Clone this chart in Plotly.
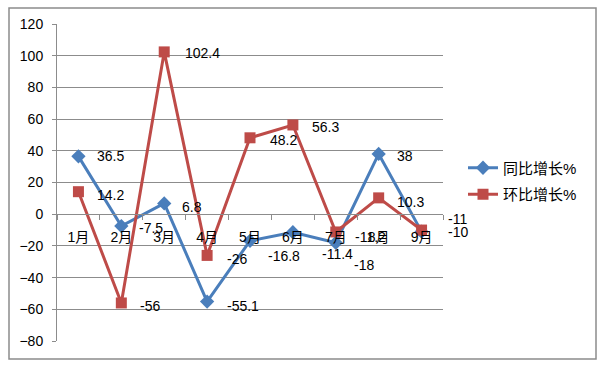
import plotly.graph_objects as go

months = ["1月", "2月", "3月", "4月", "5月", "6月", "7月", "8月", "9月"]
yoy = [36.5, -7.5, 6.8, -55.1, -16.8, -11.4, -18, 38, -11]      # 同比增长%
mom = [14.2, -56, 102.4, -26, 48.2, 56.3, -11.2, 10.3, -10]     # 环比增长%
y_ticks = [-80, -60, -40, -20, 0, 20, 40, 60, 80, 100, 120]

# label offsets in pixels (right, down)
yoy_off = [(17, 0), (16, 2), (16, 4), (18, 4), (16, 15), (27, 22), (16, 22), (16, 2), (24, -13)]
mom_off = [(17, 3), (17, 3), (19, 1), (18, 4), (18, 2), (17, 2), (17, 5), (16, 4), (24, 2)]

BLUE = "#4A7EBB"
RED = "#BE4B48"
GRID = "#8C8C8C"
FONT = "Liberation Sans, Noto Sans CJK SC, sans-serif"

W, H = 600, 367
L, R, T, B = 57, 443, 24, 341

fig = go.Figure()
fig.add_trace(go.Scatter(
    x=months, y=yoy, name="同比增长%", mode="lines+markers",
    line=dict(color=BLUE, width=3),
    marker=dict(symbol="diamond", size=11, color=BLUE),
    legendgroup="a",
))
fig.add_trace(go.Scatter(
    x=months, y=mom, name="环比增长%", mode="lines+markers",
    line=dict(color=RED, width=3),
    marker=dict(symbol="square", size=11, color=RED),
    legendgroup="b",
))

anns = []
for vals, offs in ((yoy, yoy_off), (mom, mom_off)):
    for m, v, (dx, dy) in zip(months, vals, offs):
        anns.append(dict(
            x=m, y=v, xref="x", yref="y", text=f"{v:g}", showarrow=False,
            xanchor="left", yanchor="middle", xshift=dx, yshift=-dy,
            font=dict(family=FONT, size=14, color="black"),
        ))

pw, ph = R - L, B - T
def px(x):
    return (x - L) / pw
def py(y):
    return (B - y) / ph

fig.update_layout(
    width=W, height=H,
    margin=dict(l=L, r=W - R, t=T, b=H - B, autoexpand=False),
    paper_bgcolor="white", plot_bgcolor="white",
    font=dict(family=FONT, size=14, color="black"),
    annotations=anns,
    showlegend=True,
    legend=dict(
        x=px(463), y=py(181), xanchor="left", yanchor="middle",
        font=dict(family=FONT, size=15, color="black"),
        tracegroupgap=4, itemwidth=30,
        bgcolor="rgba(0,0,0,0)",
    ),
    xaxis=dict(
        type="category", range=[-0.5, 8.5],
        anchor="free", position=0.4,
        showgrid=False, showline=True, linecolor=GRID, linewidth=1,
        ticks="outside", ticklen=5, tickcolor=GRID, tickson="boundaries",
        ticklabelstandoff=10,
        tickfont=dict(family=FONT, size=14, color="black"),
        zeroline=False,
    ),
    yaxis=dict(
        range=[-80, 120], tickvals=y_ticks,
        showgrid=True, gridcolor=GRID, gridwidth=1,
        showline=True, linecolor=GRID, linewidth=1,
        ticks="outside", ticklen=4, tickcolor=GRID,
        zeroline=False,
        tickfont=dict(family=FONT, size=14, color="black"),
        ticklabelstandoff=6,
    ),
    shapes=[dict(
        type="rect", xref="paper", yref="paper",
        x0=px(9), x1=px(596), y0=py(359), y1=py(8),
        line=dict(color=GRID, width=1.5), fillcolor="rgba(0,0,0,0)", layer="below",
    )],
)

fig.write_html(
    "out.html",
    config={"displayModeBar": False},
    post_script="document.body.style.margin='0';document.body.style.overflow='hidden';",
)
